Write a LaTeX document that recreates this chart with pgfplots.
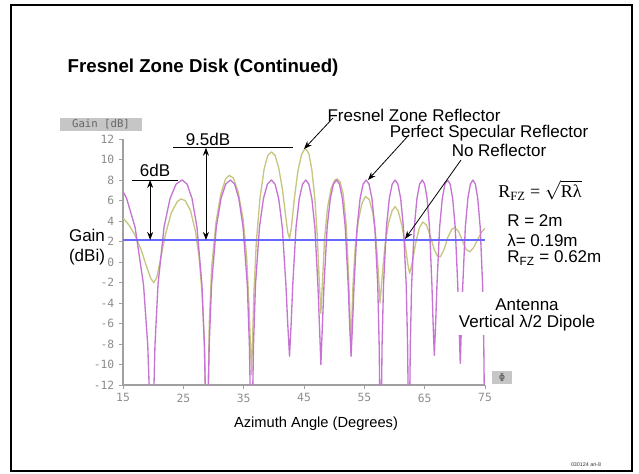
\documentclass[border=0pt]{standalone}
\usepackage{pgfplots}
\pgfplotsset{compat=1.18}
\usepackage{fontspec}
\setmainfont{Liberation Sans}
\newfontfamily\serif{Liberation Serif}
\newfontfamily\mono{DejaVu Sans Mono}
\usetikzlibrary{arrows.meta}
\definecolor{spec}{RGB}{198,116,210}
\definecolor{fzr}{RGB}{198,198,128}
\definecolor{noref}{RGB}{105,105,255}
\definecolor{axgray}{RGB}{160,160,160}
\definecolor{tickgray}{RGB}{140,140,140}
\newcommand\ann{\fontsize{12.75}{14.5}\selectfont}
\tikzset{arr/.style={-{Stealth[length=6pt,width=4.5pt]}, line width=0.6pt}}

\begin{document}
\begin{tikzpicture}
\begin{scope}[x=0.75pt,y=-0.75pt,shift={(0pt,355.5pt)}]
\useasboundingbox (0,0) rectangle (639,474);
\draw[line width=1.2pt] (11,5) rectangle (632,471);
\end{scope}

\begin{axis}[
  at={(92.25pt,66.75pt)}, anchor=south west,
  scale only axis, width=271.5pt, height=184.5pt,
  xmin=15, xmax=75, ymin=-12, ymax=12,
  axis lines=left, axis line style={axgray, -, line width=0.8pt},
  xtick={15,25,...,75}, ytick={-12,-10,...,12},
  tick align=outside, major tick length=3pt,
  tick style={axgray, line width=0.6pt},
  ticklabel style={font=\mono\fontsize{8.5}{10}\selectfont, text=tickgray},
  /pgf/number format/assume math mode=true,
  clip mode=individual,
]
% Fresnel zone reflector
\addplot[fzr, line width=1pt, line join=round] coordinates {
(15,4.3) (16,3.6) (17,2.6) (18,1.2) (19,-0.6) (19.6,-1.6) (20.1,-2.0) (20.6,-1.5)
(21.3,0.5) (22.0,2.6) (23.0,4.8) (24.0,5.9) (24.6,6.15) (25.3,6.0) (26.2,5.0)
(27.0,3.0) (27.6,0.5) (28.1,-3.0) (28.5,-8) (28.9,-20) (29.3,-6) (29.7,-0.5)
(30.4,3.8) (31.2,6.6) (32.0,8.1) (32.6,8.45) (33.3,8.2) (34.1,6.8) (34.9,4.2)
(35.5,0.5) (35.9,-4.5) (36.3,-11) (36.7,-3) (37.1,2.0) (37.7,6.2) (38.4,9.1)
(39.0,10.4) (39.6,10.75) (40.2,10.4) (40.8,9.2) (41.4,7.2) (41.9,4.8) (42.3,2.9)
(42.6,2.3) (42.9,3.3) (43.4,6.2) (44.0,8.9) (44.6,10.5) (45.2,11.1) (45.8,10.6)
(46.3,9.0) (46.8,6.2) (47.2,2.5) (47.5,-1.5) (47.8,-5.0) (48.1,-1.5) (48.4,2.2)
(48.9,5.3) (49.5,7.2) (50.1,8.0) (50.5,8.1) (51.0,7.8) (51.5,6.6) (52.0,3.6)
(52.4,-1.5) (52.8,-8.3) (53.1,-2.5) (53.5,1.5) (54.0,4.0) (54.6,5.7) (55.2,6.4)
(55.8,6.1) (56.4,4.8) (56.9,2.5) (57.3,-0.8) (57.6,-4.0) (57.9,-1.8) (58.4,1.5)
(59.0,3.8) (59.6,5.0) (60.1,5.4) (60.6,5.0) (61.2,3.6) (61.8,1.6) (62.2,-0.2)
(62.5,-1.1) (62.9,-0.2) (63.5,1.8) (64.1,3.3) (64.7,3.9) (65.3,3.6) (65.9,2.6)
(66.6,1.2) (67.1,0.6) (67.6,0.5) (68.2,1.2) (68.9,2.5) (69.5,3.2) (70.0,3.35)
(70.6,3.0) (71.3,2.0) (71.9,1.2) (72.5,1.0) (73.1,1.4) (73.8,2.2) (74.4,2.9) (75.0,3.3)
};
% Perfect specular reflector
\addplot[spec, line width=1pt, line join=round] coordinates {
(15,6.9) (15.6,6.2) (17.0,3.4) (18.4,-2.2) (19.1,-8.1) (19.45,-14) (19.8,-20)
(20.3,-8.1) (20.8,-2.2) (21.8,3.4) (22.8,6.2) (23.8,7.6) (24.8,8) (25.62,7.6) (26.44,6.2) (27.26,3.4) (28.08,-2.2) (28.49,-8.1) (28.9,-20)
(29.29,-8.1) (29.68,-2.2) (30.46,3.4) (31.24,6.2) (32.02,7.6) (32.8,8) (33.5,7.6) (34.2,6.2) (34.9,3.4) (35.6,-2.2) (35.95,-8.1) (36.3,-20)
(36.63,-8.1) (36.96,-2.2) (37.62,3.4) (38.28,6.2) (38.94,7.6) (39.6,8) (40.2,7.6) (40.8,6.2) (41.4,3.4) (42.0,-2.2) (42.3,-6) (42.6,-9.2)
(42.87,-6) (43.14,-2.2) (43.68,3.4) (44.22,6.2) (44.76,7.6) (45.3,8) (45.8,7.6) (46.3,6.2) (46.8,3.4) (47.3,-2.2) (47.55,-6) (47.8,-10.0)
(48.06,-6) (48.32,-2.2) (48.84,3.4) (49.36,6.2) (49.88,7.6) (50.4,8) (50.88,7.6) (51.36,6.2) (51.84,3.4) (52.32,-2.2) (52.56,-6) (52.8,-9.2)
(53.05,-6) (53.3,-2.2) (53.8,3.4) (54.3,6.2) (54.8,7.6) (55.3,8) (55.78,7.6) (56.26,6.2) (56.74,3.4) (57.22,-2.2) (57.46,-8.1) (57.7,-20)
(57.94,-8.1) (58.18,-2.2) (58.66,3.4) (59.14,6.2) (59.62,7.6) (60.1,8) (60.56,7.6) (61.02,6.2) (61.48,3.4) (61.94,-2.2) (62.17,-8.1) (62.4,-20)
(62.62,-8.1) (62.84,-2.2) (63.28,3.4) (63.72,6.2) (64.16,7.6) (64.6,8) (65.0,7.6) (65.4,6.2) (65.8,3.4) (66.2,-2.2) (66.4,-6) (66.6,-9.1)
(66.82,-6) (67.04,-2.2) (67.48,3.4) (67.92,6.2) (68.36,7.6) (68.8,8) (69.22,7.6) (69.64,6.2) (70.06,3.4) (70.48,-2.2) (70.69,-6) (70.9,-9.9)
(71.11,-6) (71.32,-2.2) (71.74,3.4) (72.16,6.2) (72.58,7.6) (73.0,8) (73.4,7.6) (73.8,6.2) (74.2,3.4) (74.6,-2.2) (74.8,-8.1) (75.0,-20)
};
% No reflector
\addplot[noref, line width=0.9pt] coordinates {(15,2.15) (75,2.15)};

% level marks
\draw[black, line width=0.6pt] (axis cs:16.5,8) -- (axis cs:24.1,8);
\draw[black, line width=0.6pt, {Stealth[length=6pt,width=4.5pt]}-{Stealth[length=6pt,width=4.5pt]}]
  (axis cs:19.5,8) -- (axis cs:19.5,2.15);
\draw[black, line width=0.6pt] (axis cs:23.3,11.15) -- (axis cs:43.2,11.15);
\draw[black, line width=0.6pt, {Stealth[length=6pt,width=4.5pt]}-{Stealth[length=6pt,width=4.5pt]}]
  (axis cs:28.75,11.15) -- (axis cs:28.75,2.15);
\end{axis}

\begin{scope}[x=0.75pt,y=-0.75pt,shift={(0pt,355.5pt)}]
% axis captions
\fill[gray!45] (60,118) rectangle (142,131);
\node[font=\mono\fontsize{8}{9}\selectfont, text=black!60] at (101,124.5) {Gain [dB]};
\fill[gray!45] (492,371) rectangle (512,384);
\node[font=\mono\fontsize{8}{9}\selectfont, text=black!65] at (502,377.5) {Φ};

\node[anchor=west, font=\bfseries\fontsize{14}{16}\selectfont] at (63,68) {Fresnel Zone Disk (Continued)};
\node[align=center, font=\ann] at (87,247) {Gain\\(dBi)};
\node[font=\fontsize{11}{13}\selectfont] at (316,424) {Azimuth Angle (Degrees)};

\node[anchor=base, font=\ann, inner sep=1pt] at (155,177) {6dB};
\node[anchor=base, font=\ann, inner sep=1pt] at (208,146) {9.5dB};

\node[font=\ann] at (414,115) {Fresnel Zone Reflector};
\node[font=\ann] at (489,133) {Perfect Specular Reflector};
\node[font=\ann] at (499,150) {No Reflector};
\draw[arr] (333,118) -- (304,149);
\draw[arr] (408,136) -- (368,180);
\draw[arr] (461,160) -- (405,239);

\node[anchor=west, font=\serif\fontsize{13.5}{15}\selectfont, inner sep=0pt] at (498,190)
  {R\textsubscript{FZ} = $\sqrt{\hbox{\serif\fontsize{13.5}{15}\selectfont Rλ}}$};
\node[anchor=west, font=\ann, inner sep=0pt] at (507,221) {R = 2m};
\node[anchor=west, font=\ann, inner sep=0pt] at (507,240) {λ= 0.19m};
\node[anchor=west, font=\ann, inner sep=0pt] at (507,258) {R\textsubscript{FZ} = 0.62m};

\fill[white] (455,292) rectangle (600,335);
\node[font=\ann] at (527,305) {Antenna};
\node[font=\ann] at (527,323) {Vertical λ/2 Dipole};

\node[font=\fontsize{4}{5}\selectfont, text=black!80] at (586,465) {030124 ari-8};
\end{scope}
\end{tikzpicture}
\end{document}
